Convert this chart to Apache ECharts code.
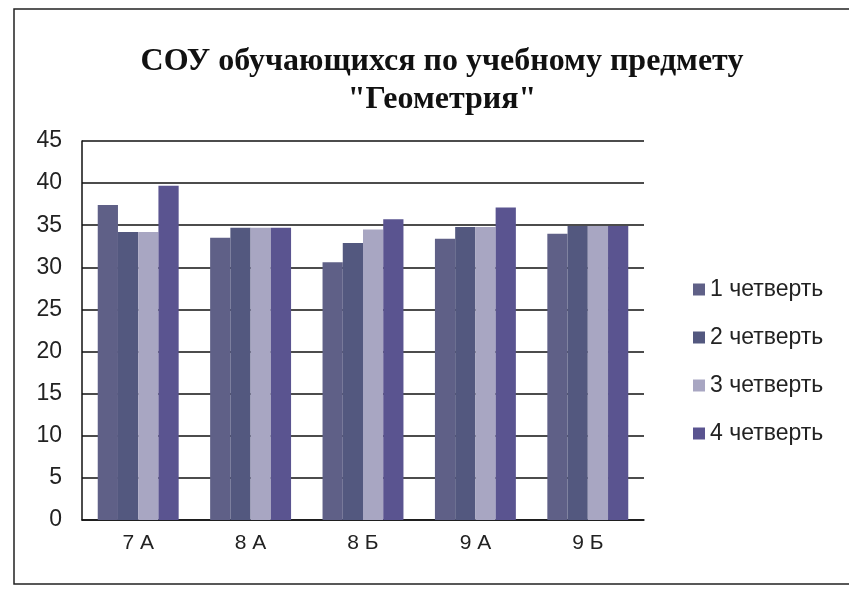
<!DOCTYPE html>
<html lang="ru">
<head>
  <meta charset="utf-8">
  <title>СОУ Геометрия</title>
  <script src="https://cdn.jsdelivr.net/npm/echarts@6/dist/echarts.min.js"></script>
  <style>
    html, body { margin: 0; padding: 0; background: #fff; }
    #chart1 { width: 849px; height: 589px; }
  </style>
</head>
<body>
<div id="chart1"></div>
<script>
  // классы и значения по четвертям
  var klassy = ['7 А', '8 А', '8 Б', '9 А', '9 Б'];
  var chetv1 = [37.4, 33.5, 30.6, 33.4, 34.0];
  var chetv2 = [34.2, 34.7, 32.9, 34.8, 34.9];
  var chetv3 = [34.2, 34.7, 34.5, 34.8, 34.9];
  var chetv4 = [39.7, 34.7, 35.7, 37.1, 34.9];
  var nazvaniya = ['1 четверть', '2 четверть', '3 четверть', '4 четверть'];
  var cveta = ['#5f6087', '#53587f', '#a8a6c2', '#5a5490'];

  var chart1 = echarts.init(document.getElementById('chart1'));

  var ryady = [chetv1, chetv2, chetv3, chetv4].map(function (d, i) {
    return {
      name: nazvaniya[i],
      type: 'bar',
      data: d,
      barGap: '0%',
      barCategoryGap: '28%',
      itemStyle: { color: cveta[i] }
    };
  });

  var option = {
    backgroundColor: '#fff',
    animation: false,
    title: {
      text: 'СОУ обучающихся по учебному предмету\n"Геометрия"',
      left: 437,
      textAlign: 'center',
      top: 38,
      textStyle: {
        fontFamily: 'Liberation Serif',
        fontWeight: 'bold',
        fontSize: 32,
        lineHeight: 38,
        color: '#111'
      }
    },
    legend: {
      orient: 'vertical',
      left: 688,
      top: 273,
      itemGap: 25,
      itemWidth: 12,
      itemHeight: 12,
      icon: 'rect',
      textStyle: { fontFamily: 'Liberation Sans', fontSize: 23, color: '#222' },
      data: nazvaniya
    },
    grid: { left: 82, right: 205, top: 141, bottom: 69, containLabel: false },
    xAxis: {
      type: 'category',
      data: klassy,
      axisLine: { lineStyle: { color: '#111', width: 1.5 } },
      axisTick: { show: false },
      axisLabel: { margin: 13, fontFamily: 'Liberation Sans', fontSize: 21, color: '#222' }
    },
    yAxis: {
      type: 'value',
      min: 0,
      max: 45,
      interval: 5,
      axisLine: { show: true, lineStyle: { color: '#111', width: 1.5 } },
      axisTick: { show: false },
      axisLabel: { margin: 20, fontFamily: 'Liberation Sans', fontSize: 23, color: '#222' },
      splitLine: { lineStyle: { color: '#111', width: 1.5 } }
    },
    graphic: [{
      type: 'rect',
      shape: { x: 14, y: 9, width: 900, height: 575 },
      style: { fill: 'none', stroke: '#222', lineWidth: 1.5 },
      silent: true
    }],
    series: ryady
  };
  chart1.setOption(option);
</script>
</body>
</html>
